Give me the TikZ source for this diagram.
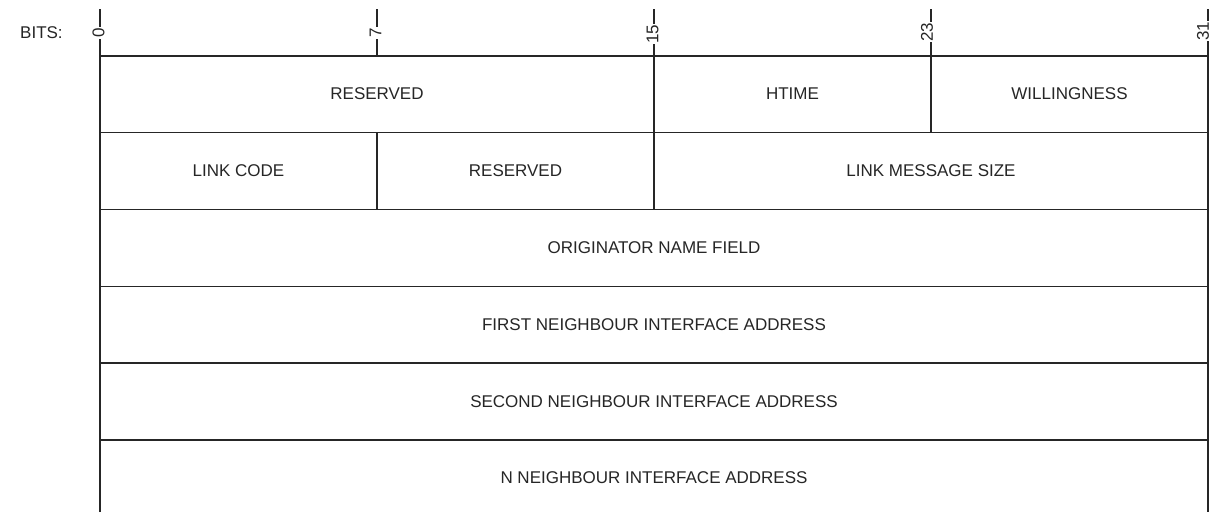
\documentclass[tikz,border=0pt]{standalone}
\usepackage{fontspec}
\setmainfont{Liberation Sans}
\begin{document}
\begin{tikzpicture}[x=1pt,y=-1pt,
  rule/.style={line width=1.3pt,draw=black!85},
  field/.style={font=\fontsize{17}{20}\selectfont,inner sep=0pt,text=black!85},
  bitlabel/.style={font=\fontsize{17}{20}\selectfont,rotate=90,fill=white,inner sep=1pt,text=black!85}]
\useasboundingbox[fill=white] (0,0) rectangle (1216,512);

% bit positions along the top edge of the frame
\coordinate (b0) at (100,56);
\coordinate (b7) at (377,56);
\coordinate (b15) at (654,56);
\coordinate (b23) at (931,56);
\coordinate (b31) at (1208,56);

% tick marks above the frame
\foreach \p in {b0,b7,b15,b23,b31}
  \draw[rule] (\p) -- ++(0,-47);
\node[bitlabel] (t0)  at ([xshift=-1.5pt,yshift=23pt]b0)  {0};
\node[bitlabel] (t7)  at ([xshift=-1.5pt,yshift=23pt]b7)  {7};
\node[bitlabel] (t15) at ([xshift=-1.5pt,yshift=22pt]b15) {15};
\node[bitlabel] (t23) at ([xshift=-4pt,yshift=24pt]b23)   {23};
\node[bitlabel] (t31) at ([xshift=-5pt,yshift=25pt]b31)   {31};
\node[field,anchor=west] (bits) at (20,33) {BITS:};

% outer frame, open at the bottom
\draw[rule] (100,512) -- (b0) -- (b31) -- (1208,512);

% row separators
\foreach \y in {132.5,209.5,286.5,363,440}
  \draw[rule] (100,\y) -- (1208,\y);

% field dividers
\draw[rule] (654,56) -- (654,209.5);
\draw[rule] (931,56) -- (931,132.5);
\draw[rule] (377,132.5) -- (377,209.5);

% field names
\node[field] (f1) at (377,94)    {RESERVED};
\node[field] (f2) at (792.5,94)  {HTIME};
\node[field] (f3) at (1069.5,94) {WILLINGNESS};
\node[field] (f4) at (238.5,171) {LINK CODE};
\node[field] (f5) at (515.5,171) {RESERVED};
\node[field] (f6) at (931,171)   {LINK MESSAGE SIZE};
\node[field] (f7) at (654,248)   {ORIGINATOR NAME FIELD};
\node[field] (f8) at (654,325)   {FIRST NEIGHBOUR INTERFACE ADDRESS};
\node[field] (f9) at (654,401.5) {SECOND NEIGHBOUR INTERFACE ADDRESS};
\node[field] (f10) at (654,478)  {N NEIGHBOUR INTERFACE ADDRESS};
\end{tikzpicture}
\end{document}
